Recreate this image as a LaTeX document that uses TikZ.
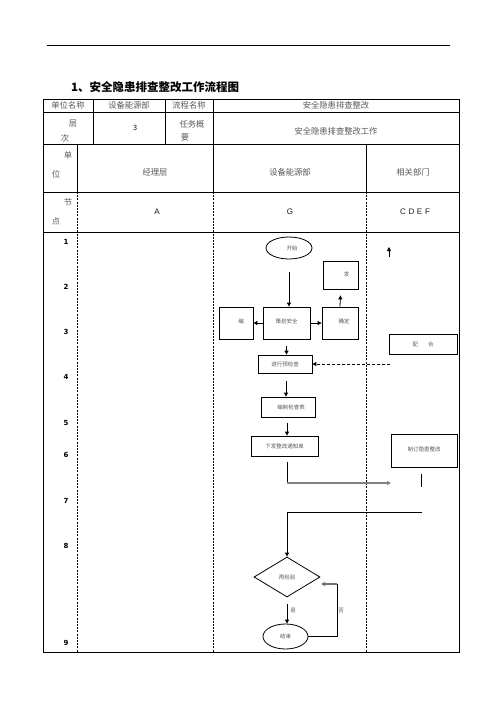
\documentclass[tikz,border=0pt]{standalone}
\usepackage{fontspec}
\setmainfont{Liberation Serif}
\newfontfamily\cjk{Noto Sans CJK SC}
\newfontfamily\numfont{DejaVu Sans}
\newfontfamily\latfont{Liberation Sans}
\usetikzlibrary{shapes.geometric,arrows.meta}
\tikzset{
  grid/.style={line width=0.9pt,black},
  dgrid/.style={line width=0.7pt,black,dash pattern=on 2pt off 1.2pt},
  hdr/.style={font=\cjk\fontsize{8.3}{9}\selectfont,text=black!65,inner sep=0},
  lat/.style={font=\latfont\fontsize{8}{9}\selectfont,text=black!90,inner sep=0},
  num/.style={font=\numfont\bfseries\fontsize{7}{8}\selectfont,inner sep=0},
  fbox/.style={draw,line width=0.8pt,rectangle,inner sep=0,font=\cjk\fontsize{5.5}{6}\selectfont,text=black!65},
  fell/.style={draw,line width=0.8pt,ellipse,inner sep=0,font=\cjk\fontsize{5.5}{6}\selectfont,text=black!65},
  fdia/.style={draw,line width=0.8pt,diamond,inner sep=0,aspect=1.65,font=\cjk\fontsize{5.5}{6}\selectfont,text=black!65},
  arr/.style={line width=0.8pt,-{Triangle[length=4pt,width=4pt]}},
  lab/.style={font=\cjk\fontsize{5.5}{6}\selectfont,text=black!65,inner sep=0}
}
\begin{document}
\begin{tikzpicture}[x=1pt,y=-1pt]
\useasboundingbox (0,0) rectangle (496,702);
\fill[white] (0,0) rectangle (496,702);
% top rule
\draw[line width=0.8pt] (47,45) -- (450,45);
% title
\node[anchor=west,inner sep=0,font=\cjk\bfseries\fontsize{11.5}{12}\selectfont] (title) at (71,87) {1、安全隐患排查整改工作流程图};
% table
\draw[grid] (43,99) rectangle (459,652);
\foreach \yy in {112,144,192,232} \draw[grid] (43,\yy) -- (459,\yy);
\foreach \xx in {93,165} \draw[grid] (\xx,99) -- (\xx,144);
\draw[grid] (213,99) -- (213,192);
\draw[grid] (77,144) -- (77,192);
\draw[grid] (366,144) -- (366,192);
\draw[dgrid] (77,192) -- (77,652);
\draw[dgrid] (213.5,192) -- (213.5,652);
\draw[dgrid] (366.5,192) -- (366.5,652);
% header texts
\node[hdr] (h1) at (68,105.5) {单位名称};
\node[hdr] (h2) at (129,105.5) {设备能源部};
\node[hdr] (h3) at (189,105.5) {流程名称};
\node[hdr] (h4) at (336,105.5) {安全隐患排查整改};
\node[hdr] (h5) at (73,124) {层};
\node[hdr] (h6) at (65,138) {次};
\node[lat,font=\numfont\fontsize{7}{8}\selectfont] (h7) at (135,128) {3};
\node[hdr] (h8) at (192,124) {任务概};
\node[hdr] (h9) at (185,138) {要};
\node[hdr] (h10) at (336,131) {安全隐患排查整改工作};
\node[hdr] (h11) at (68,155) {单};
\node[hdr] (h12) at (56,174) {位};
\node[hdr] (h13) at (155,172) {经理层};
\node[hdr] (h14) at (290,172) {设备能源部};
\node[hdr] (h15) at (413,172) {相关部门};
\node[hdr] (h16) at (68,202) {节};
\node[hdr] (h17) at (56,221) {点};
\node[lat] (h18) at (157,212) {A};
\node[lat] (h19) at (290,212) {G};
\node[lat] (h20) at (415,212) {C\,\,D\,\,E\,\,F};
% row numbers
\foreach \n/\yy in {1/242,2/287,3/332,4/377,5/423,6/455,7/501,8/546,9/643}
  \node[num] (r\n) at (66,\yy) {\n};
% flow nodes
\node[fell,minimum width=46pt,minimum height=22pt] (start) at (289,248) {\hspace{6pt}开始};
\node[fbox,minimum width=47pt,minimum height=32pt] (plan) at (286.5,323) {\raisebox{3pt}{策划安全}};
\node[fbox,minimum width=34pt,minimum height=32pt] (bian) at (236,323) {\hspace{10pt}\raisebox{3pt}{编}};
\node[fbox,minimum width=36pt,minimum height=32pt] (qd) at (340,323) {\hspace{8pt}\raisebox{3pt}{确定}};
\node[fbox,minimum width=35pt,minimum height=28pt] (fa) at (340.5,275) {\hspace{12pt}\raisebox{2pt}{发}};
\node[fbox,minimum width=68pt,minimum height=20pt] (pei) at (423,344) {\raisebox{-3pt}{配\hspace{10pt}合}};
\node[fbox,minimum width=54pt,minimum height=18pt] (jx) at (285,364) {\raisebox{-2pt}{进行预检查}};
\node[fbox,minimum width=54pt,minimum height=20pt] (bz) at (288,407) {\hspace{6pt}\raisebox{-3pt}{编制检查表}};
\node[fbox,minimum width=67pt,minimum height=20pt] (xf) at (284.5,446) {\raisebox{-2pt}{下发整改通知单}};
\node[fbox,minimum width=66pt,minimum height=33pt] (zd) at (424,450.5) {\raisebox{3pt}{制订隐患整改}};
\node[fdia,minimum width=66pt,minimum height=40pt] (zj) at (287,577) {再检验};
\node[fell,minimum width=45pt,minimum height=25pt] (end) at (285.5,636.5) {结束};
% free end coordinates
\coordinate (upa) at (389,257);
\coordinate (upb) at (389,247);
\coordinate (peiout) at (390,364);
\coordinate (xfturn) at (287,483);
\coordinate (xfend) at (391,483);
\coordinate (vla) at (421,474);
\coordinate (vlb) at (421,487);
\coordinate (ret) at (422,512);
\coordinate (retturn) at (287,512);
\coordinate (loopa) at (337,636.5);
\coordinate (loopb) at (337,584);
\coordinate (loopc) at (321,584);
% connectors
\draw[arr] ([yshift=-13pt]start.south) -- (start.south |- plan.north);
\draw[arr] (plan.west) -- (bian.east);
\draw[arr] (plan.east) -- (qd.west);
\draw[arr] (qd.north) -- ([yshift=-6pt]fa.south);
\draw[arr] (upa) -- (upb);
\draw[arr] ([yshift=-7pt]plan.south) -- (plan.south |- jx.north);
\draw[arr,dashed,dash pattern=on 3pt off 2pt,line width=1pt] (peiout) -- (jx.east);
\draw[arr] ([yshift=-8pt,xshift=1pt]jx.south) -- ([xshift=1pt]jx.south |- bz.north);
\draw[arr] ([yshift=-6pt,xshift=-1pt]bz.south) -- ([xshift=-1pt]bz.south |- xf.north);
\draw[line width=0.8pt] ([yshift=-6pt,xshift=2.5pt]xf.south) -- (xfturn);
\draw[arr,line width=1.4pt,black!50] (xfturn) -- (xfend);
\draw[line width=0.8pt] (vla) -- (vlb);
\draw[arr] (ret) -- (retturn) -- (zj.north);
\draw[arr] ([yshift=-7pt]zj.south) -- (zj.south |- end.north);
\node[lab] (shi) at (293,611) {是};
\draw[line width=0.9pt] (end.east) -- (loopa) -- (loopb);
\draw[arr,line width=1.2pt,black!55] (loopb) -- (loopc);
\node[lab] (fou) at (341,611) {否};
\end{tikzpicture}
\end{document}
